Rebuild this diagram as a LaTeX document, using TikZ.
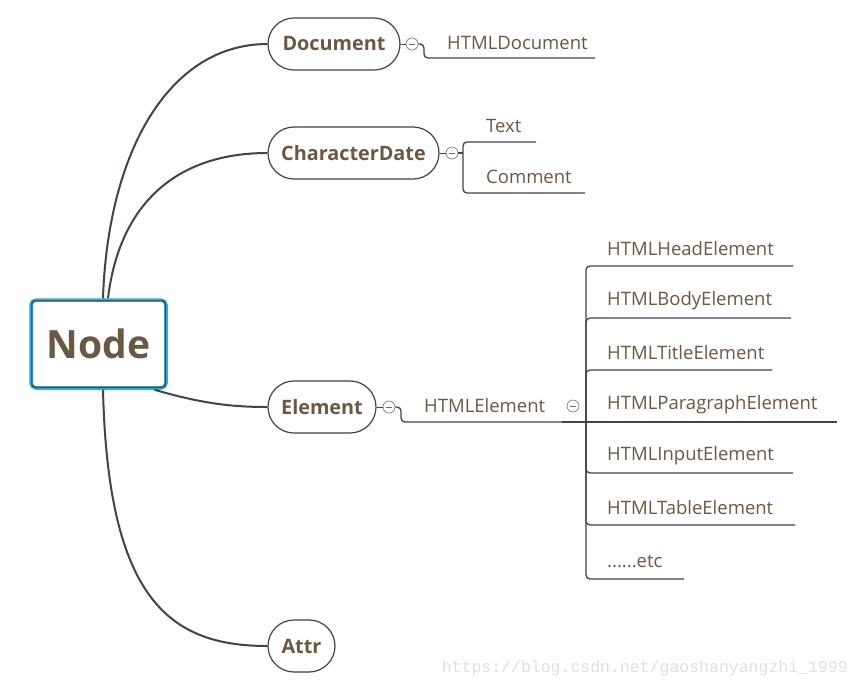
\documentclass[tikz,border=0pt]{standalone}
\usepackage{fontspec}
\setmainfont{Open Sans}
\newfontfamily\wmfont{Liberation Mono}
\definecolor{txt}{HTML}{6B5842}
\definecolor{ln}{HTML}{3E454D}
\definecolor{cy}{HTML}{29AAE1}
\definecolor{wm}{HTML}{E0E0DA}
\begin{document}
\begin{tikzpicture}[x=1pt,y=-1pt,
  topic/.style={draw=ln, line width=1.2pt, rounded corners=26pt, minimum height=52pt, inner sep=0pt,
    fill=white, text=txt, font=\bfseries\fontsize{19.8}{20}\selectfont},
  col/.style={circle, draw=ln!70, line width=0.7pt, minimum size=12pt, inner sep=0pt, fill=white,
    path picture={\draw[ln!80, line width=0.7pt] ([xshift=-3pt]path picture bounding box.center) -- ([xshift=3pt]path picture bounding box.center);}},
  sub/.style={anchor=west, inner sep=0pt, text=txt, font=\fontsize{18.5}{19}\selectfont},
  br/.style={draw=ln, line width=1.3pt, rounded corners=4pt},
  curve/.style={draw=ln, line width=2pt},
]
\useasboundingbox (0,0) rectangle (860,689);
\fill[white] (0,0) rectangle (860,689);

% root
\node[draw=cy, line width=3.5pt, rounded corners=5pt, minimum width=135pt, minimum height=88pt, fill=white,
  text=txt, font=\bfseries\fontsize{39}{40}\selectfont] (root) at (98.5,344) {Node};
\draw[ln, line width=1.2pt, rounded corners=3pt] ([shift={(2.6,2.6)}]root.north west) rectangle ([shift={(-2.6,-2.6)}]root.south east);

% topics
\node[topic, minimum width=132pt] (doc) at (334,44) {Document};
\node[topic, minimum width=171pt] (chr) at (353.5,153) {CharacterDate};
\node[topic, minimum width=108pt] (ele) at (322,407) {Element};
\node[topic, minimum width=67pt] (att) at (301.5,646) {Attr};

% curves
\draw[curve] ([xshift=4.5pt]root.north) .. controls (108,150) and (170,44) .. (doc.west);
\draw[curve] ([xshift=9.5pt]root.north) .. controls (120,200) and (180,153) .. (chr.west);
\draw[curve] ([xshift=56pt]root.south) .. controls (200,403) and (230,407) .. (ele.west);
\draw[curve] ([xshift=4.5pt]root.south) .. controls (108,600) and (170,646) .. (att.west);

% collapse buttons
\node[col] (cdoc) at (412,44) {};
\node[col] (cchr) at (452,153) {};
\node[col] (cele) at (389,407) {};
\draw[ln, line width=1pt] (doc.east) -- (cdoc.west);
\draw[ln, line width=1pt] (chr.east) -- (cchr.west);
\draw[ln, line width=1pt] (ele.east) -- (cele.west);

% Document branch
\node[sub] (hdoc) at (447,43) {HTMLDocument};
\coordinate (edoc) at (595,58);
\draw[br] (cdoc.east) -- (424,44) |- (edoc);

% CharacterDate branch
\node[sub] (ttext) at (486,126) {Text};
\node[sub] (tcom) at (486,177) {Comment};
\coordinate (etext) at (536,142);
\coordinate (ecom) at (585,193);
\draw[br] (cchr.east) -- (463,153);
\draw[br] (463,153) |- (etext);
\draw[br] (463,153) |- (ecom);

% Element branch
\node[sub] (hel) at (424,406) {HTMLElement};
\node[col] (chel) at (573,406) {};
\coordinate (jn) at (586,422);
\draw[br] (cele.east) -- (401,407) |- (jn);
\draw[ln, line width=2.2pt] (562,422) -- (jn);

\foreach \nm/\lab/\ty/\ex in {
  h1/HTMLHeadElement/266/793,
  h2/HTMLBodyElement/318/791,
  h3/HTMLTitleElement/370/772,
  h5/HTMLInputElement/473/793,
  h6/HTMLTableElement/525/795,
  h7/{......etc}/579/684}{
  \node[sub] (\nm) at (607,\ty-17) {\lab};
  \coordinate (e\nm) at (\ex,\ty);
  \draw[br] (jn) |- (e\nm);
}
\node[sub] (h4) at (607,405) {HTMLParagraphElement};
\coordinate (eh4) at (837,422);
\draw[br] (jn) -- (eh4);

% watermark
\node[anchor=east, inner sep=0pt, text=wm, font=\wmfont\fontsize{16.5}{16.5}\selectfont] (wmk) at (848,668) {https://blog.csdn.net/gaoshanyangzhi\_1999};
\end{tikzpicture}
\end{document}
